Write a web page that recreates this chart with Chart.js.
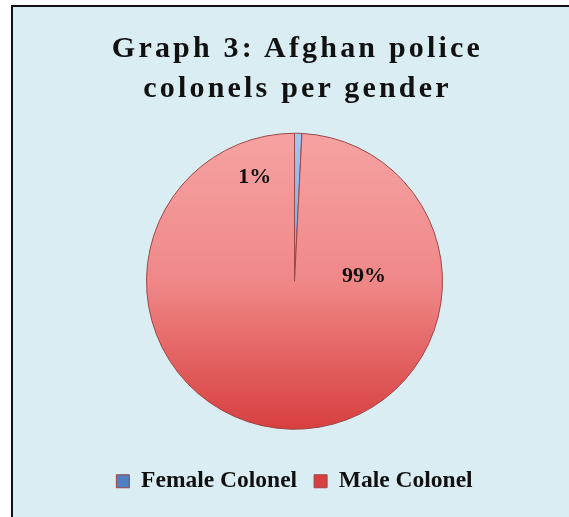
<!DOCTYPE html>
<html>
<head>
<meta charset="utf-8">
<script src="https://cdn.jsdelivr.net/npm/chart.js@4/dist/chart.umd.min.js"></script>
<style>
    body { margin: 0; background: #fff; }
    #frame {
        position: absolute; left: 11px; top: 5px; width: 600px; height: 510px;
        background: #daedf3; border-left: 2px solid #111; border-top: 2px solid #111;
        border-bottom: 1px solid #b9c6cc;
    }
    #title {
        position: absolute; left: 11px; top: 27px; width: 567px; padding-left: 3px;
        text-align: center; font-family: 'Liberation Serif', 'Times New Roman', serif;
        font-weight: bold; font-size: 30px; line-height: 40px; letter-spacing: 3.2px; color: #111;
        z-index: 2;
    }
    #wrap { position: absolute; left: 0; top: 0; width: 569px; height: 517px; z-index: 1; }
</style>
</head>
<body>
<div id="frame"></div>
<div id="title">Graph 3: Afghan police<br>colonels per gender</div>
<div id="wrap"><canvas id="chart" width="569" height="517"></canvas></div>
<script>
// данные графика
const categories = ['Female Colonel', 'Male Colonel'];
const shares = [0.8, 99.2];

// где рисовать подписи: угол от верха по часовой и доля радиуса
const labelPlaces = [{ deg: -21, r: 0.75 }, { deg: 86, r: 0.47 }];

const serif = "'Liberation Serif', 'Times New Roman', serif";
const pieRadius = 148;

function sliceFill(ctx) {
    const area = ctx.chart.chartArea;
    if (!area || !isFinite(area.top)) return ctx.dataIndex === 0 ? '#7ea6e0' : '#ef8a8a';
    const cy = (area.top + area.bottom) / 2;
    const g = ctx.chart.ctx.createLinearGradient(0, cy - pieRadius, 0, cy + pieRadius);
    if (ctx.dataIndex === 0) {
        g.addColorStop(0, '#a6c6f0');
        g.addColorStop(1, '#4f7fc4');
    } else {
        g.addColorStop(0, '#f6a2a2');
        g.addColorStop(0.5, '#f08888');
        g.addColorStop(1, '#d83f3f');
    }
    return g;
}

const percentLabels = {
    id: 'percentLabels',
    afterDatasetsDraw(chart) {
        const ctx = chart.ctx;
        const meta = chart.getDatasetMeta(0);
        const values = chart.data.datasets[0].data;
        const total = values.reduce((a, b) => a + b, 0);
        ctx.save();
        ctx.font = 'bold 22px ' + serif;
        ctx.fillStyle = '#111';
        ctx.textAlign = 'center';
        ctx.textBaseline = 'middle';
        meta.data.forEach((arc, i) => {
            const p = labelPlaces[i];
            const a = (p.deg - 90) * Math.PI / 180;
            const x = arc.x + Math.cos(a) * arc.outerRadius * p.r;
            const y = arc.y + Math.sin(a) * arc.outerRadius * p.r;
            ctx.fillText(Math.round(values[i] / total * 100) + '%', x, y);
        });
        ctx.restore();
    }
};

new Chart(document.getElementById('chart'), {
    type: 'pie',
    data: {
        labels: categories,
        datasets: [{
            data: shares,
            backgroundColor: sliceFill,
            borderColor: '#9c4646',
            borderWidth: 1,
            radius: pieRadius
        }]
    },
    options: {
        responsive: false,
        animation: false,
        layout: { padding: { top: 110, left: 20, right: 0, bottom: 14 } },
        plugins: {
            tooltip: { enabled: false },
            legend: {
                position: 'bottom',
                labels: {
                    boxWidth: 13,
                    boxHeight: 13,
                    padding: 17,
                    color: '#111',
                    font: { family: serif, size: 23.5, weight: 'bold' }
                }
            }
        }
    },
    plugins: [percentLabels]
});
</script>
</body>
</html>
